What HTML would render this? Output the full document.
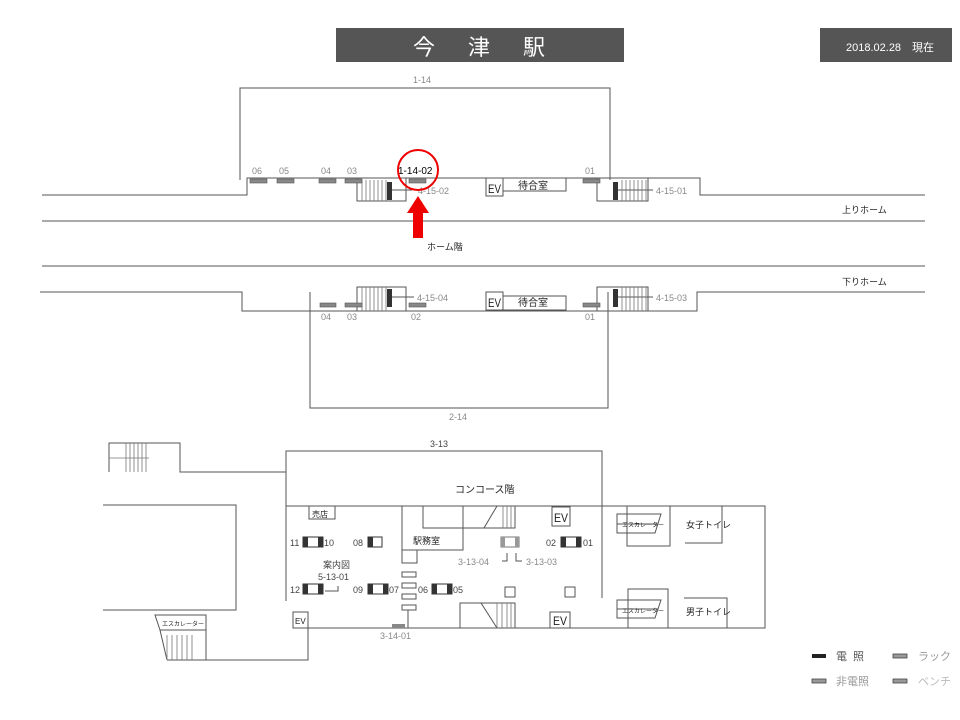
<!DOCTYPE html>
<html><head><meta charset="utf-8"><style>
body{margin:0;background:#fff}
svg{display:block}
text{font-family:"Liberation Sans","Noto Sans CJK JP",sans-serif}
.g{fill:#888;font-size:9px}
.k{fill:#222;font-size:9px}
</style></head><body>
<svg width="960" height="720" viewBox="0 0 960 720" xmlns="http://www.w3.org/2000/svg">
<g fill="none" stroke="#555" stroke-width="1">
<polyline points="240,180 240,88 610,88 610,180"/>
<polyline points="42,195 247,195 247,178 700,178 700,195 925,195"/>
<line x1="42" y1="221" x2="925" y2="221"/>
<line x1="42" y1="266" x2="925" y2="266"/>
<polyline points="40,292 242,292 242,311 697,311 697,292 925,292"/>
<polyline points="310,292 310,408 608,408 608,292"/>
<rect x="357" y="178" width="49" height="23"/>
<rect x="597" y="178" width="51" height="23"/>
<rect x="357" y="287" width="49" height="24"/>
<rect x="597" y="287" width="51" height="24"/>
<rect x="486" y="178" width="17" height="18"/>
<rect x="503" y="178" width="63" height="13"/>
<rect x="486" y="292" width="17" height="18"/>
<rect x="503" y="296" width="63" height="14"/>
<line x1="390" y1="190" x2="412" y2="190"/>
<line x1="615" y1="190" x2="653" y2="190"/>
<line x1="390" y1="297" x2="414" y2="297"/>
<line x1="615" y1="297" x2="653" y2="297"/>
</g>
<g stroke="#777" stroke-width="0.8">
<path d="M362 180v21M366 180v21M370 180v21M374 180v21M378 180v21M382 180v21M386 180v21"/>
<path d="M362 287v24M366 287v24M370 287v24M374 287v24M378 287v24M382 287v24M386 287v24"/>
<path d="M622 180v21M626 180v21M630 180v21M634 180v21M638 180v21M642 180v21M646 180v21"/>
<path d="M622 287v24M626 287v24M630 287v24M634 287v24M638 287v24M642 287v24M646 287v24"/>
</g>
<g fill="#333">
<rect x="387" y="182" width="5" height="18"/><rect x="613" y="182" width="5" height="18"/>
<rect x="387" y="289" width="5" height="18"/><rect x="613" y="289" width="5" height="18"/>
</g>
<g fill="#888" stroke="#555" stroke-width="0.6">
<rect x="250" y="179" width="17" height="4"/><rect x="277" y="179" width="17" height="4"/>
<rect x="319" y="179" width="17" height="4"/><rect x="345" y="179" width="17" height="4"/>
<rect x="409" y="179" width="17" height="4"/><rect x="583" y="179" width="17" height="4"/>
<rect x="320" y="303" width="16" height="4"/><rect x="345" y="303" width="17" height="4"/>
<rect x="409" y="303" width="17" height="4"/><rect x="583" y="303" width="17" height="4"/>
</g>
<g class="g">
<text x="252" y="174">06</text><text x="279" y="174">05</text><text x="321" y="174">04</text><text x="347" y="174">03</text><text x="585" y="174">01</text>
<text x="321" y="320">04</text><text x="347" y="320">03</text><text x="411" y="320">02</text><text x="585" y="320">01</text>
<text x="413" y="83">1-14</text><text x="449" y="420">2-14</text>
<text x="418" y="194">4-15-02</text><text x="656" y="194">4-15-01</text>
<text x="417" y="301">4-15-04</text><text x="656" y="301">4-15-03</text>
</g>
<g fill="#222">
<text x="488" y="193" font-size="12" textLength="13" lengthAdjust="spacingAndGlyphs">EV</text><text x="518" y="189" font-size="10">待合室</text>
<text x="488" y="307" font-size="12" textLength="13" lengthAdjust="spacingAndGlyphs">EV</text><text x="518" y="306" font-size="10">待合室</text>
</g>
<text x="398" y="174" font-size="10" fill="#000">1-14-02</text>
<circle cx="418" cy="170" r="20" fill="none" stroke="#e00" stroke-width="2"/>
<polygon points="418,196 407,213 413,213 413,238 423,238 423,213 429,213" fill="#e00"/>
<text x="427" y="250" font-size="9" fill="#222">ホーム階</text>
<text x="842" y="213" font-size="9" fill="#222">上りホーム</text>
<text x="842" y="285" font-size="9" fill="#222">下りホーム</text>
<rect x="336" y="28" width="288" height="34" fill="#555"/>
<text x="413" y="55" font-size="22" fill="#fff" letter-spacing="33">今津駅</text>
<rect x="820" y="28" width="132" height="34" fill="#555"/>
<text x="846" y="51" font-size="11" fill="#fff">2018.02.28　現在</text>
<g fill="none" stroke="#555" stroke-width="1">
<polyline points="286,601 286,451 602,451 602,518"/>
<polyline points="286,506 765,506 765,628 305,628"/>
<polyline points="109,472 109,443 180,443 180,472 286,472"/>
<polyline points="103,505 236,505 236,610 103,610"/>
<polyline points="167,660 308,660 308,628"/>
<rect x="293" y="612" width="15" height="16"/>
<rect x="309" y="506" width="26" height="13"/>
<polyline points="402,506 402,550 463,550 463,528"/>
<rect x="423" y="506" width="40" height="22"/>
<polyline points="463,528 515,528 515,506"/>
<line x1="484" y1="528" x2="497" y2="506"/>
<rect x="402" y="550" width="15" height="13"/>
<rect x="402" y="572" width="14" height="5"/><rect x="402" y="583" width="14" height="5"/>
<rect x="402" y="594" width="14" height="5"/><rect x="402" y="605" width="14" height="5"/>
<line x1="408" y1="610" x2="408" y2="628"/>
<polyline points="460,628 460,603 515,603 515,628"/>
<line x1="481" y1="603" x2="497" y2="628"/>
<rect x="552" y="507" width="18" height="19"/>
<rect x="550" y="612" width="20" height="16"/>
<rect x="505" y="587" width="10" height="10"/><rect x="565" y="587" width="10" height="10"/>
<polyline points="338,586 338,591 325,591"/>
<polyline points="507,553 507,561 502,561"/><polyline points="516,553 516,561 522,561"/>
<line x1="602" y1="518" x2="602" y2="598"/>
<polyline points="627,506 627,546 670,546 670,506"/>
<polygon points="617,514 661,514 655,533 617,533"/>
<line x1="617" y1="524" x2="658" y2="524"/>
<polyline points="685,543 722,543 722,506"/>
<polyline points="628,628 628,589 668,589 668,628"/>
<polygon points="617,600 661,600 655,618 617,618"/>
<line x1="617" y1="609" x2="658" y2="609"/>
<polyline points="684,598 727,598 727,628"/>
<polygon points="155,615 206,615 206,630 160,630"/>
<line x1="206" y1="630" x2="206" y2="660"/>
<line x1="160" y1="630" x2="167" y2="660"/>
</g>
<g stroke="#777" stroke-width="0.8">
<path d="M126 443v29M130 443v29M134 443v29M138 443v29M142 443v29M146 443v29M109 458h40"/>
<path d="M167 635v25M172 635v25M177 635v25M182 635v25M187 635v25M192 635v25"/>
<path d="M503 506v22M507 506v22M511 506v22M497 603v25M502 603v25M507 603v25M511 603v25"/>
</g>
<g stroke="#333" stroke-width="1">
<rect x="303" y="537" width="20" height="10" fill="#fff"/><rect x="368" y="537" width="14" height="10" fill="#fff"/>
<rect x="561" y="537" width="20" height="10" fill="#fff"/>
<rect x="303" y="584" width="20" height="10" fill="#fff"/><rect x="368" y="584" width="20" height="10" fill="#fff"/>
<rect x="432" y="584" width="20" height="10" fill="#fff"/>
<rect x="501" y="537" width="18" height="10" fill="#fff" stroke="#777"/>
</g>
<g fill="#333">
<rect x="303" y="537" width="5" height="10"/><rect x="318" y="537" width="5" height="10"/>
<rect x="368" y="537" width="5" height="10"/>
<rect x="561" y="537" width="5" height="10"/><rect x="576" y="537" width="5" height="10"/>
<rect x="303" y="584" width="5" height="10"/><rect x="318" y="584" width="5" height="10"/>
<rect x="368" y="584" width="5" height="10"/><rect x="383" y="584" width="5" height="10"/>
<rect x="432" y="584" width="5" height="10"/><rect x="447" y="584" width="5" height="10"/>
<rect x="501" y="537" width="4" height="10" fill="#999"/><rect x="515" y="537" width="4" height="10" fill="#999"/>
<rect x="392" y="624" width="13" height="4" fill="#888"/>
</g>
<g class="g">
<text x="290" y="546" fill="#444">11</text><text x="324" y="546" fill="#444">10</text>
<text x="353" y="546" fill="#444">08</text><text x="546" y="546" fill="#444">02</text><text x="583" y="546" fill="#444">01</text>
<text x="290" y="593" fill="#444">12</text><text x="353" y="593" fill="#444">09</text><text x="389" y="593" fill="#444">07</text>
<text x="418" y="593" fill="#444">06</text><text x="453" y="593" fill="#444">05</text>
<text x="323" y="568" fill="#444">案内図</text><text x="318" y="580" fill="#444">5-13-01</text>
<text x="458" y="565">3-13-04</text><text x="526" y="565">3-13-03</text>
<text x="380" y="639">3-14-01</text>
<text x="430" y="447" fill="#444">3-13</text>
</g>
<g fill="#222">
<text x="455" y="493" font-size="10">コンコース階</text>
<text x="312" y="517" font-size="8">売店</text>
<text x="413" y="544" font-size="9">駅務室</text>
<text x="554" y="522" font-size="12" textLength="14" lengthAdjust="spacingAndGlyphs">EV</text>
<text x="553" y="625" font-size="12" textLength="14" lengthAdjust="spacingAndGlyphs">EV</text>
<text x="295" y="624" font-size="8">EV</text>
<text x="622" y="527" font-size="6">エスカレーター</text>
<text x="622" y="613" font-size="6">エスカレーター</text>
<text x="162" y="626" font-size="6">エスカレーター</text>
<text x="686" y="528" font-size="9">女子トイレ</text>
<text x="686" y="615" font-size="9">男子トイレ</text>
</g>
<rect x="812" y="654" width="14" height="4" fill="#222"/>
<rect x="893" y="654" width="14" height="4" fill="#999" stroke="#444" stroke-width="0.8"/>
<rect x="812" y="679" width="14" height="4" fill="#999" stroke="#444" stroke-width="0.8"/>
<rect x="893" y="679" width="14" height="4" fill="#999" stroke="#444" stroke-width="0.8"/>
<text x="836" y="660" font-size="11" fill="#555" letter-spacing="6">電照</text>
<text x="918" y="660" font-size="11" fill="#999">ラック</text>
<text x="836" y="685" font-size="11" fill="#999">非電照</text>
<text x="918" y="685" font-size="11" fill="#bbb">ベンチ</text>
</svg>
</body></html>
